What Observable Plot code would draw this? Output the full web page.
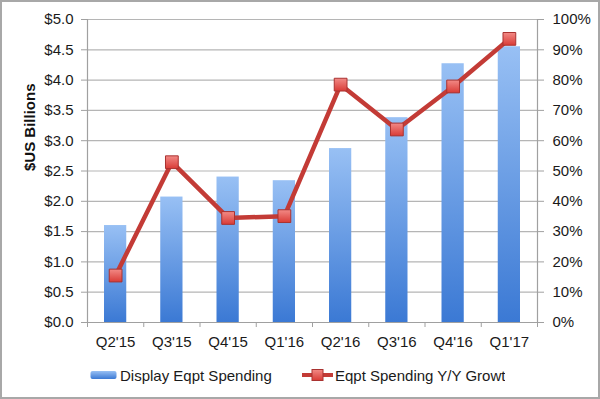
<!DOCTYPE html>
<html>
<head>
<meta charset="utf-8">
<script src="https://cdn.jsdelivr.net/npm/d3@7"></script>
<script src="https://cdn.jsdelivr.net/npm/@observablehq/plot@0.6"></script>
<style>
  html, body { margin: 0; padding: 0; background: #fff; }
  body { font-family: "Liberation Sans", Arial, Helvetica, sans-serif; }
  #wrap { position: relative; width: 600px; height: 399px; overflow: hidden; background: #fff; }
  #border { position: absolute; left: 0; top: 0; width: 600px; height: 399px; box-sizing: border-box; border: 2px solid #a8a8a8; pointer-events: none; }
  #chart { position: absolute; left: 0; top: 0; }
  #legend { position: absolute; left: 0; top: 355px; width: 600px; height: 44px; font-size: 15px; color: #1a1a1a; }
  .item { position: absolute; top: 10px; height: 20px; display: flex; align-items: center; white-space: nowrap; }
  .item > * { flex-shrink: 0; }
</style>
</head>
<body>
<svg width="0" height="0" style="position:absolute">
  <defs>
    <linearGradient id="barGrad" x1="0" y1="0" x2="0" y2="1">
      <stop offset="0" stop-color="#98c0f4"/>
      <stop offset="1" stop-color="#3b79d4"/>
    </linearGradient>
    <linearGradient id="redGrad" x1="0" y1="0" x2="0" y2="1">
      <stop offset="0" stop-color="#f28a86"/>
      <stop offset="1" stop-color="#d93b36"/>
    </linearGradient>
  </defs>
</svg>
<div id="wrap">
  <div id="chart"></div>
  <div id="legend">
    <div class="item" style="left:90px;">
      <svg width="27" height="10" style="margin-right:3px"><rect x="0.5" y="1" width="26" height="8" rx="2" fill="url(#barGrad)"/></svg>
      <span>Display Eqpt Spending</span>
    </div>
    <div class="item" style="left:301px; width:204px; overflow:hidden;">
      <svg width="33" height="14" style="margin-right:1px"><line x1="1" y1="7" x2="32" y2="7" stroke="#c33b36" stroke-width="4"/><rect x="11" y="1.5" width="11" height="11" fill="url(#redGrad)" stroke="#a93230" stroke-width="1"/></svg>
      <span>Eqpt Spending Y/Y Growth</span>
    </div>
  </div>
  <div id="border"></div>
</div>
<script>
const categories = ["Q2'15", "Q3'15", "Q4'15", "Q1'16", "Q2'16", "Q3'16", "Q4'16", "Q1'17"];
const spending = [1.60, 2.07, 2.40, 2.34, 2.87, 3.38, 4.27, 4.55];   // $US Billions
const growth = [15.5, 52.9, 34.5, 35.1, 78.5, 63.7, 77.9, 93.6];      // percent Y/Y
const leftTicks = [0, 0.5, 1, 1.5, 2, 2.5, 3, 3.5, 4, 4.5, 5];
const rightTicks = [0, 10, 20, 30, 40, 50, 60, 70, 80, 90, 100];

const pctPerDollar = 20; // 100% right axis aligns with $5.0 left axis
const data = categories.map((c, i) => ({i, cat: c, spend: spending[i], growth: growth[i]}));
const boundaries = d3.range(categories.length + 1);
const centers = categories.map((c, i) => i + 0.5);

const plot = Plot.plot({
  width: 600,
  height: 355,
  marginLeft: 87,
  marginRight: 63,
  marginTop: 19,
  marginBottom: 33,
  style: {fontFamily: "'Liberation Sans', Arial, sans-serif", fontSize: "15px", color: "#1a1a1a", background: "transparent"},
  x: {type: "linear", domain: [0, categories.length]},
  y: {domain: [0, 5]},
  marks: [
    Plot.gridY(leftTicks, {stroke: "#b5b5b5", strokeOpacity: 1, strokeWidth: 1.2}),
    Plot.rectY(data, {x1: d => d.i, x2: d => d.i + 1, y: "spend", insetLeft: 17, insetRight: 17, fill: "url(#barGrad)"}),
    Plot.ruleY([0], {stroke: "#a0a0a0", strokeWidth: 1.2}),
    Plot.ruleX([0, categories.length], {stroke: "#a0a0a0", strokeWidth: 1.2}),
    Plot.axisY(leftTicks, {anchor: "left", tickFormat: d => "$" + d.toFixed(1), tickSize: 6, tickPadding: 8, stroke: "#a0a0a0", fill: "#1a1a1a", fontSize: 15, label: null}),
    Plot.axisY(rightTicks.map(t => t / pctPerDollar), {anchor: "right", tickFormat: d => Math.round(d * pctPerDollar) + "%", tickSize: 6, tickPadding: 9, stroke: "#a0a0a0", fill: "#1a1a1a", fontSize: 15, label: null}),
    Plot.axisX(boundaries, {tickFormat: () => "", tickSize: 5, stroke: "#a0a0a0", label: null}),
    Plot.axisX(centers, {tickFormat: d => categories[Math.floor(d)], tickSize: 0, tickPadding: 14, fill: "#1a1a1a", fontSize: 15, label: null}),
    Plot.text(["$US Billions"], {frameAnchor: "left", dx: -57, rotate: -90, fontWeight: "bold", fontSize: 15, fill: "#111"}),
    Plot.line(data, {x: d => d.i + 0.5, y: d => d.growth / pctPerDollar, stroke: "#c33b36", strokeWidth: 4.5}),
    Plot.dot(data, {x: d => d.i + 0.5, y: d => d.growth / pctPerDollar, symbol: "square", r: 7.2, fill: "url(#redGrad)", stroke: "#a93230", strokeWidth: 1})
  ]
});
document.getElementById("chart").appendChild(plot);
</script>
</body>
</html>
